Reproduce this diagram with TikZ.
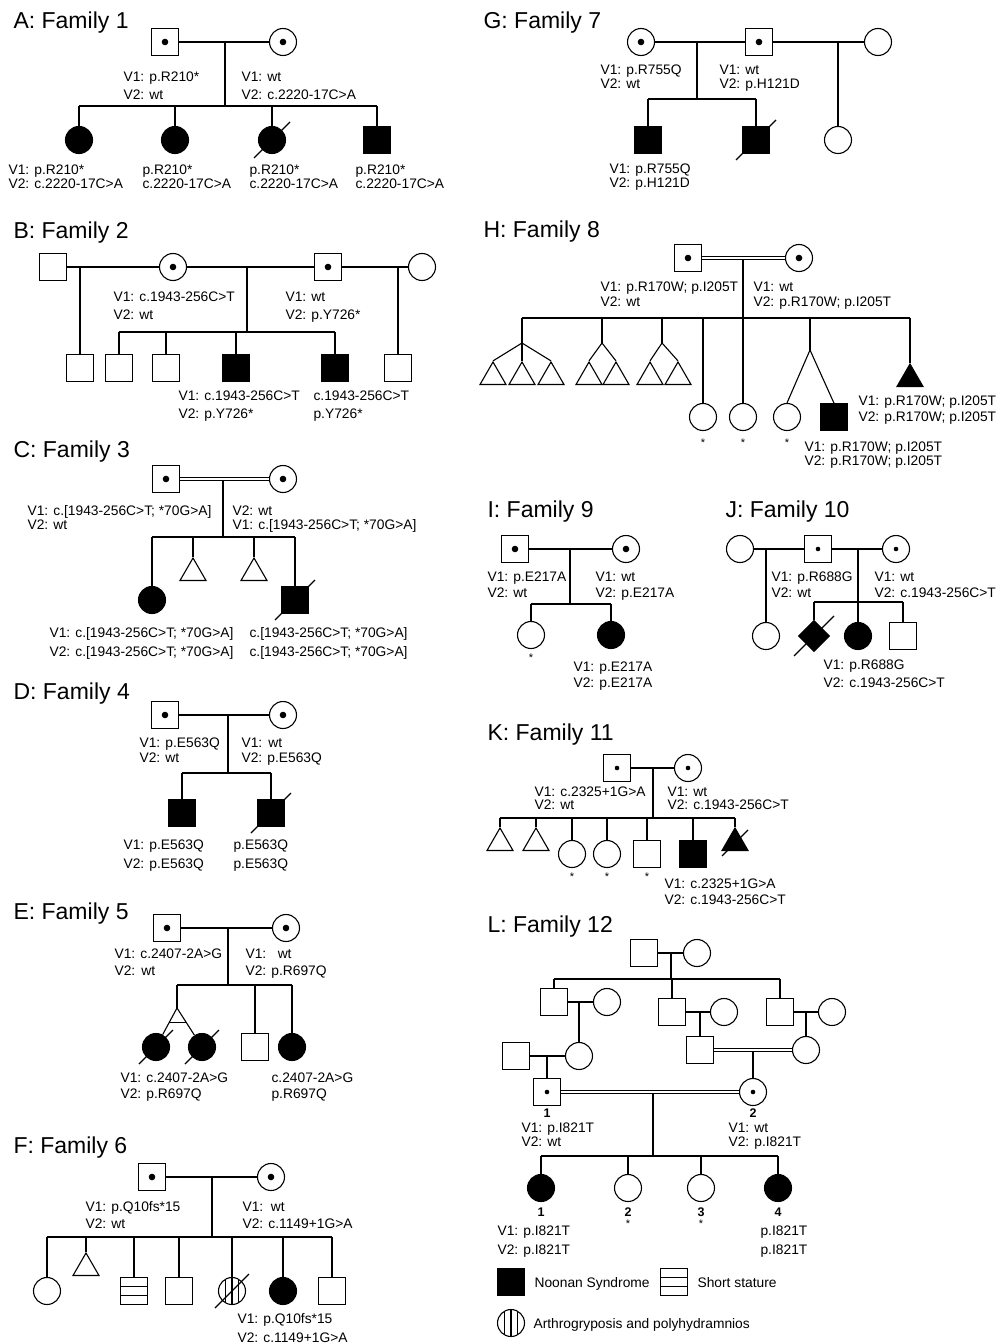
\documentclass[tikz,border=0pt]{standalone}
\usepackage{fontspec}
\setmainfont{Liberation Sans}
\usetikzlibrary{shapes.geometric,calc}
\tikzset{
 ind/.style={draw, inner sep=0pt, fill=white},
 male/.style={ind, rectangle, minimum size=26.5pt},
 female/.style={ind, circle, minimum size=27pt},
 unk/.style={ind, diamond, minimum size=31pt},
 tri/.style={ind, regular polygon, regular polygon sides=3, minimum size=30pt},
 aff/.style={fill=black},
 car/.style={path picture={\fill[black] (path picture bounding box.center) circle (3.3pt);}},
 cars/.style={path picture={\fill[black] (path picture bounding box.center) circle (2.3pt);}},
 hstr/.style={path picture={\foreach \yy in {-4.4,4.4} \draw[black] ([yshift=\yy pt]path picture bounding box.west) -- ([yshift=\yy pt]path picture bounding box.east);}},
 vstr/.style={path picture={\foreach \xx in {-6.5,0,6.5} \draw[black] ([xshift=\xx pt]path picture bounding box.north) -- ([xshift=\xx pt]path picture bounding box.south);}},
 lbl/.style={anchor=base west, inner sep=0pt, font=\fontsize{13.8}{16}\selectfont},
 ttl/.style={anchor=base west, inner sep=0pt, font=\fontsize{23}{26}\selectfont},
 ast/.style={anchor=base, inner sep=0pt, font=\fontsize{11}{12}\selectfont},
 num/.style={anchor=base, inner sep=0pt, font=\fontsize{12.5}{14}\selectfont\bfseries},
 cons/.style={double, double distance=2.4pt, line width=1pt},
}
\newcommand\twolab[6]{\node[lbl] (#1a) at (#2,#3) {#5}; \node[lbl] (#1b) at (#2,#3+#4) {#6};}
\newcommand\decd[2][20]{\draw ([shift={(-#1,#1)}]#2.center) -- ([shift={(#1,-#1)}]#2.center);}
\newcommand\sib[3]{\draw (#2.north |- #1) -- (#3.north |- #1);}
\newcommand\drops[2]{\foreach \nn in {#2} \draw (\nn.north) -- (\nn.north |- #1);}
\begin{document}
\begin{tikzpicture}[x=1pt, y=-1pt, line width=1.1pt]
\useasboundingbox (0,0) rectangle (998,1343);
\fill[white] (0,0) rectangle (998,1343);

% ---------------- A
\node[ttl] (At) at (13,29) {A: Family 1};
\node[male,car] (AF) at (165,42) {};
\node[female,car] (AM) at (283,42) {};
\draw (AF) -- (AM);
\coordinate (As) at (225,106);
\draw (As) -- (As |- AF);
\node[female,aff] (A1) at (79,140) {};
\node[female,aff] (A2) at (175,140) {};
\node[female,aff] (A3) at (272,140) {};
\node[male,aff] (A4) at (377,140) {};
\sib{As}{A1}{A4}
\drops{As}{A1,A2,A3,A4}
\decd[18]{A3}
\twolab{AFl}{123}{82}{18}{V1: p.R210*}{V2: wt}
\twolab{AMl}{241}{82}{18}{V1: wt}{V2: c.2220-17C>A}
\twolab{A1l}{8}{175}{14}{V1: p.R210*}{V2: c.2220-17C>A}
\twolab{A2l}{142}{175}{14}{p.R210*}{c.2220-17C>A}
\twolab{A3l}{249}{175}{14}{p.R210*}{c.2220-17C>A}
\twolab{A4l}{355}{175}{14}{p.R210*}{c.2220-17C>A}

% ---------------- B
\node[ttl] (Bt) at (13,238) {B: Family 2};
\node[male] (B1) at (53,267) {};
\node[female,car] (B2) at (173,267) {};
\node[male,car] (B3) at (328,267) {};
\node[female] (B4) at (422,267) {};
\draw (B1) -- (B2); \draw (B2) -- (B3); \draw (B3) -- (B4);
\node[male] (B5) at (80,368) {};
\node[male] (B6) at (119,368) {};
\node[male] (B7) at (166,368) {};
\node[male,aff] (B8) at (236,368) {};
\node[male,aff] (B9) at (335,368) {};
\node[male] (B10) at (398,368) {};
\draw (B5.north) -- (B5.north |- B1);
\draw (B10.north) -- (B10.north |- B4);
\coordinate (Bs) at (247,332);
\draw (Bs) -- (Bs |- B2);
\sib{Bs}{B6}{B9}
\drops{Bs}{B6,B7,B8,B9}
\twolab{B2l}{113}{301}{18}{V1: c.1943-256C>T}{V2: wt}
\twolab{B3l}{285}{301}{18}{V1: wt}{V2: p.Y726*}
\twolab{B8l}{178}{400}{18}{V1: c.1943-256C>T}{V2: p.Y726*}
\twolab{B9l}{313}{400}{18}{c.1943-256C>T}{p.Y726*}

% ---------------- C
\node[ttl] (Ct) at (13,457) {C: Family 3};
\node[male,car] (CF) at (166,479) {};
\node[female,car] (CM) at (283,479) {};
\coordinate (Cs) at (223,537);
\draw (Cs) -- (Cs |- CF);
\draw[cons] (CF) -- (CM);
\node[female,aff] (C1) at (152,600) {};
\node[tri] (C2) at (193,573) {};
\node[tri] (C3) at (254,573) {};
\node[male,aff] (C4) at (295,600) {};
\sib{Cs}{C1}{C4}
\drops{Cs}{C1,C2,C3,C4}
\decd{C4}
\twolab{CFl}{27}{515}{14.5}{V1: c.[1943-256C>T; *70G>A]}{V2: wt}
\twolab{CMl}{232}{515}{14.5}{V2: wt}{V1: c.[1943-256C>T; *70G>A]}
\twolab{C1l}{49}{637}{19}{V1: c.[1943-256C>T; *70G>A]}{V2: c.[1943-256C>T; *70G>A]}
\twolab{C4l}{249}{637}{19}{c.[1943-256C>T; *70G>A]}{c.[1943-256C>T; *70G>A]}

% ---------------- D
\node[ttl] (Dt) at (13,699) {D: Family 4};
\node[male,car] (DF) at (165,715) {};
\node[female,car] (DM) at (283,715) {};
\draw (DF) -- (DM);
\coordinate (Ds) at (228,773);
\draw (Ds) -- (Ds |- DF);
\node[male,aff] (D1) at (182,813) {};
\node[male,aff] (D2) at (271,813) {};
\sib{Ds}{D1}{D2}
\drops{Ds}{D1,D2}
\decd{D2}
\twolab{DFl}{139}{747}{15}{V1: p.E563Q}{V2: wt}
\twolab{DMl}{241}{747}{15}{V1:\ \,wt}{V2: p.E563Q}
\twolab{D1l}{123}{849}{19}{V1: p.E563Q}{V2: p.E563Q}
\twolab{D2l}{233}{849}{19}{p.E563Q}{p.E563Q}

% ---------------- E
\node[ttl] (Et) at (13,919) {E: Family 5};
\node[male,car] (EF) at (167,928) {};
\node[female,car] (EM) at (286,928) {};
\draw (EF) -- (EM);
\coordinate (Es) at (228,985);
\draw (Es) -- (Es |- EF);
\coordinate (Etw) at (177,1008);
\node[female,aff] (E1) at (156,1047) {};
\node[female,aff] (E2) at (202,1047) {};
\node[male] (E3) at (255,1047) {};
\node[female,aff] (E4) at (292,1047) {};
\draw (Etw |- Es) -- (E4.north |- Es);
\draw (Etw) -- (Etw |- Es);
\draw (Etw) -- (E1); \draw (Etw) -- (E2);
\draw ($(Etw)!0.36!(E1)$) -- ($(Etw)!0.36!(E2)$);
\drops{Es}{E3,E4}
\decd[17]{E1} \decd[17]{E2}
\twolab{EFl}{114}{958}{17}{V1: c.2407-2A>G}{V2:\ \,wt}
\twolab{EMl}{245}{958}{17}{V1:\ \ \ wt}{V2: p.R697Q}
\twolab{E1l}{120}{1082}{16.5}{V1: c.2407-2A>G}{V2: p.R697Q}
\twolab{E4l}{271}{1082}{16.5}{c.2407-2A>G}{p.R697Q}

% ---------------- F
\node[ttl] (Ft) at (13,1153) {F: Family 6};
\node[male,car] (FF) at (152,1177) {};
\node[female,car] (FM) at (271,1177) {};
\draw (FF) -- (FM);
\coordinate (Fs) at (212,1237);
\draw (Fs) -- (Fs |- FF);
\node[female] (F1) at (47,1291) {};
\node[tri] (F2) at (86,1268) {};
\node[male,hstr] (F3) at (134,1291) {};
\node[male] (F4) at (179,1291) {};
\node[female,vstr] (F5) at (232,1291) {};
\node[female,aff] (F6) at (283,1291) {};
\node[male] (F7) at (332,1291) {};
\sib{Fs}{F1}{F7}
\drops{Fs}{F1,F2,F3,F4,F5,F6,F7}
\decd[17]{F5}
\twolab{FFl}{85}{1211}{17}{V1: p.Q10fs*15}{V2: wt}
\twolab{FMl}{242}{1211}{17}{V1:\ \ wt}{V2: c.1149+1G>A}
\twolab{F6l}{237}{1323}{19}{V1: p.Q10fs*15}{V2: c.1149+1G>A}

% ---------------- G
\node[ttl] (Gt) at (483,29) {G: Family 7};
\node[female,car] (GM) at (641,42) {};
\node[male,car] (GF) at (759,42) {};
\node[female] (GW) at (878,42) {};
\draw (GM) -- (GF); \draw (GF) -- (GW);
\coordinate (Gs) at (697,99);
\draw (Gs) -- (Gs |- GM);
\node[male,aff] (G1) at (648,140) {};
\node[male,aff] (G2) at (756,140) {};
\node[female] (G3) at (838,140) {};
\sib{Gs}{G1}{G2}
\drops{Gs}{G1,G2}
\draw (G3.north) -- (G3.north |- GF);
\decd{G2}
\twolab{GMl}{600}{75}{13.5}{V1: p.R755Q}{V2: wt}
\twolab{GFl}{719}{75}{13.5}{V1: wt}{V2: p.H121D}
\twolab{G1l}{609}{174}{14}{V1: p.R755Q}{V2: p.H121D}

% ---------------- H
\node[ttl] (Ht) at (483,237) {H: Family 8};
\node[male,car] (HF) at (688,258) {};
\node[female,car] (HM) at (799,258) {};
\coordinate (Hs) at (743,318);
\draw (Hs) -- (Hs |- HF);
\draw[cons] (HF) -- (HM);
\coordinate (Hf1) at (522,343);
\coordinate (Hf2) at (602,343);
\coordinate (Hf3) at (662,343);
\coordinate (Hf4) at (810,350);
\node[tri] (Ht1) at (493,377) {};
\node[tri] (Ht2) at (522,377) {};
\node[tri] (Ht3) at (551,377) {};
\node[tri] (Ht4) at (589,377) {};
\node[tri] (Ht5) at (616,377) {};
\node[tri] (Ht6) at (650,377) {};
\node[tri] (Ht7) at (678,377) {};
\node[female] (H1) at (703,417) {};
\node[female] (H2) at (743,417) {};
\node[female] (H3) at (787,417) {};
\node[male,aff] (H4) at (834,417) {};
\node[tri,aff] (Ht8) at (910,379) {};
\draw (Hf1 |- Hs) -- (Ht8.north |- Hs);
\foreach \nn in {Hf1,Hf2,Hf3,Hf4} \draw (\nn) -- (\nn |- Hs);
\drops{Hs}{H1,H2,Ht8}
\foreach \nn in {Ht1,Ht2,Ht3} \draw (Hf1) -- (\nn.north);
\foreach \nn in {Ht4,Ht5} \draw (Hf2) -- (\nn.north);
\foreach \nn in {Ht6,Ht7} \draw (Hf3) -- (\nn.north);
\foreach \nn in {H3,H4} \draw (Hf4) -- (\nn.north);
\node[ast] (Ha1) at (703,446) {*};
\node[ast] (Ha2) at (743,446) {*};
\node[ast] (Ha3) at (787,446) {*};
\twolab{HFl}{600}{291}{15}{V1: p.R170W; p.I205T}{V2: wt}
\twolab{HMl}{753}{291}{15}{V1: wt}{V2: p.R170W; p.I205T}
\twolab{Ht8l}{858}{405}{16}{V1: p.R170W; p.I205T}{V2: p.R170W; p.I205T}
\twolab{H4l}{804}{451}{14.5}{V1: p.R170W; p.I205T}{V2: p.R170W; p.I205T}

% ---------------- I
\node[ttl] (It) at (487,517) {I: Family 9};
\node[male,car] (IF) at (515,549) {};
\node[female,car] (IM) at (626,549) {};
\draw (IF) -- (IM);
\coordinate (Is) at (570,604);
\draw (Is) -- (Is |- IF);
\node[female] (I1) at (531,635) {};
\node[female,aff] (I2) at (611,635) {};
\sib{Is}{I1}{I2}
\drops{Is}{I1,I2}
\node[ast] (Ia1) at (531,661) {*};
\twolab{IFl}{487}{581}{16}{V1: p.E217A}{V2: wt}
\twolab{IMl}{595}{581}{16}{V1: wt}{V2: p.E217A}
\twolab{I2l}{573}{671}{16}{V1: p.E217A}{V2: p.E217A}

% ---------------- J
\node[ttl] (Jt) at (725,517) {J: Family 10};
\node[female] (JW) at (740,549) {};
\node[male,cars] (JF) at (818,549) {};
\node[female,cars] (JM) at (896,549) {};
\draw (JW) -- (JF); \draw (JF) -- (JM);
\node[female] (J1) at (766,636) {};
\draw (J1.north) -- (J1.north |- JW);
\coordinate (Js) at (858,602);
\draw (Js) -- (Js |- JF);
\node[unk,aff] (J2) at (814,636) {};
\node[female,aff] (J3) at (858,636) {};
\node[male] (J4) at (903,636) {};
\sib{Js}{J2}{J4}
\drops{Js}{J2,J3,J4}
\decd{J2}
\twolab{JFl}{771}{581}{16}{V1: p.R688G}{V2: wt}
\twolab{JMl}{874}{581}{16}{V1: wt}{V2: c.1943-256C>T}
\twolab{J3l}{823}{669}{18}{V1: p.R688G}{V2: c.1943-256C>T}

% ---------------- K
\node[ttl] (Kt) at (487,740) {K: Family 11};
\node[male,cars] (KF) at (617,768) {};
\node[female,cars] (KM) at (688,768) {};
\draw (KF) -- (KM);
\coordinate (Ks) at (653,818);
\draw (Ks) -- (Ks |- KF);
\node[tri] (K1) at (500,843) {};
\node[tri] (K2) at (536,843) {};
\node[female] (K3) at (572,854) {};
\node[female] (K4) at (607,854) {};
\node[male] (K5) at (647,854) {};
\node[male,aff] (K6) at (693,854) {};
\node[tri,aff] (K7) at (735,843) {};
\sib{Ks}{K1}{K7}
\drops{Ks}{K1,K2,K3,K4,K5,K6,K7}
\decd[13]{K7}
\node[ast] (Ka1) at (572,880) {*};
\node[ast] (Ka2) at (607,880) {*};
\node[ast] (Ka3) at (647,880) {*};
\twolab{KFl}{534}{796}{13.5}{V1: c.2325+1G>A}{V2: wt}
\twolab{KMl}{667}{796}{13.5}{V1: wt}{V2: c.1943-256C>T}
\twolab{K6l}{664}{888}{16}{V1: c.2325+1G>A}{V2: c.1943-256C>T}

% ---------------- L
\node[ttl] (Lt) at (487,932) {L: Family 12};
\node[male] (L1) at (644,953) {};
\node[female] (L2) at (697,953) {};
\draw (L1) -- (L2);
\coordinate (Ls1) at (671,979);
\draw (Ls1) -- (Ls1 |- L1);
\node[male] (L3) at (554,1002) {};
\node[female] (L4) at (607,1002) {};
\node[male] (L5) at (672,1012) {};
\node[female] (L6) at (724,1012) {};
\node[male] (L7) at (780,1012) {};
\node[female] (L8) at (832,1012) {};
\sib{Ls1}{L3}{L7}
\drops{Ls1}{L3,L5,L7}
\draw (L3) -- (L4); \draw (L5) -- (L6); \draw (L7) -- (L8);
\node[male] (L9) at (516,1056) {};
\node[female] (L10) at (579,1056) {};
\node[male] (L11) at (700,1050) {};
\node[female] (L12) at (806,1050) {};
\draw (L10.north) -- (L10.north |- L3);
\draw (L11.north) -- (L11.north |- L5);
\draw (L12.north) -- (L12.north |- L7);
\draw (L9) -- (L10);
\node[male,cars] (L13) at (547,1092) {};
\node[female,cars] (L14) at (753,1092) {};
\draw (L13.north) -- (L13.north |- L9);
\draw (L14.north) -- (L14.north |- L11);
\draw[cons] (L11) -- (L12);
\coordinate (Ls2) at (653,1156);
\draw (Ls2) -- (Ls2 |- L13);
\draw[cons] (L13) -- (L14);
\node[female,aff] (L15) at (541,1188) {};
\node[female] (L16) at (628,1188) {};
\node[female] (L17) at (701,1188) {};
\node[female,aff] (L18) at (778,1188) {};
\sib{Ls2}{L15}{L18}
\drops{Ls2}{L15,L16,L17,L18}
\node[num] (Ln1) at (547,1117) {1};
\node[num] (Ln2) at (753,1117) {2};
\node[num] (Ln3) at (541,1216) {1};
\node[num] (Ln4) at (628,1216) {2};
\node[num] (Ln5) at (701,1216) {3};
\node[num] (Ln6) at (778,1216) {4};
\node[ast] (La1) at (628,1227) {*};
\node[ast] (La2) at (701,1227) {*};
\twolab{L13l}{521}{1132}{14}{V1: p.I821T}{V2: wt}
\twolab{L14l}{728}{1132}{14}{V1: wt}{V2: p.I821T}
\twolab{L15l}{497}{1235}{19}{V1: p.I821T}{V2: p.I821T}
\twolab{L18l}{760}{1235}{19}{p.I821T}{p.I821T}

% ---------------- legend
\node[male,aff] (Lg1) at (511,1282) {};
\node[lbl] (Lg1t) at (534,1287) {Noonan Syndrome};
\node[male,hstr] (Lg2) at (674,1282) {};
\node[lbl] (Lg2t) at (697,1287) {Short stature};
\node[female,vstr] (Lg3) at (511,1323) {};
\node[lbl] (Lg3t) at (533,1328) {Arthrogryposis and polyhydramnios};
\end{tikzpicture}
\end{document}
